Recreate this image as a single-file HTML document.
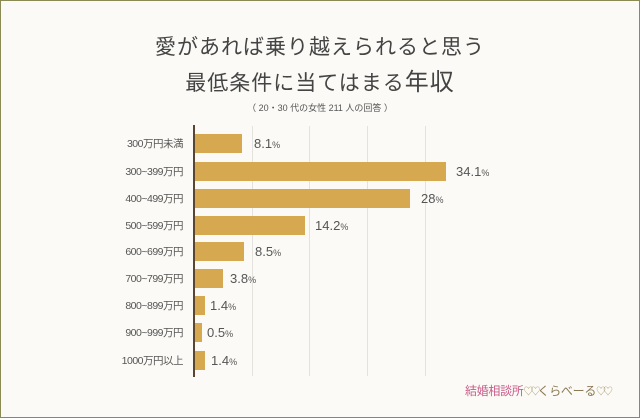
<!DOCTYPE html>
<html><head><meta charset="utf-8"><style>
body{margin:0;width:640px;height:418px;overflow:hidden;background:#fbfaf6;font-family:"Liberation Sans","Noto Sans CJK JP",sans-serif;}
.f{position:absolute;left:0;top:0;width:638px;height:416px;border:1px solid #8a8a55;}
.t{position:absolute;left:0;width:640px;text-align:center;color:#444;}
.g{position:absolute;top:126px;height:250px;width:1px;background:#e4e2dc;}
.bar{position:absolute;left:195px;height:19px;background:#d6a850;}
.lab{position:absolute;right:457px;font-size:10.5px;color:#555;letter-spacing:-0.5px;}
.v{position:absolute;font-size:13px;color:#555;}
.v small{font-size:9px;}
</style></head><body>
<div class="f"></div>
<div class="t" style="top:31px;font-size:21px;letter-spacing:1px;">愛があれば乗り越えられると思う</div>
<div class="t" style="top:62px;font-size:21px;letter-spacing:1px;">最低条件に当てはまる<span style="font-size:24px">年収</span></div>
<div class="t" style="top:101px;font-size:9px;color:#555;">（ 20・30 代の女性 211 人の回答 ）</div>
<div class="g" style="left:252px"></div><div class="g" style="left:309px"></div><div class="g" style="left:367px"></div><div class="g" style="left:425px"></div>
<div style="position:absolute;left:193px;top:125px;width:2px;height:252px;background:#5a4630"></div>

<div class="bar" style="top:134px;width:47px"></div><div class="lab" style="top:136px">300万円未満</div><div class="v" style="left:254px;top:136px">8.1<small>%</small></div>
<div class="bar" style="top:162px;width:251px"></div><div class="lab" style="top:164px">300~399万円</div><div class="v" style="left:456px;top:164px">34.1<small>%</small></div>
<div class="bar" style="top:189px;width:215px"></div><div class="lab" style="top:191px">400~499万円</div><div class="v" style="left:421px;top:191px">28<small>%</small></div>
<div class="bar" style="top:216px;width:110px"></div><div class="lab" style="top:218px">500~599万円</div><div class="v" style="left:315px;top:218px">14.2<small>%</small></div>
<div class="bar" style="top:242px;width:49px"></div><div class="lab" style="top:244px">600~699万円</div><div class="v" style="left:255px;top:244px">8.5<small>%</small></div>
<div class="bar" style="top:269px;width:28px"></div><div class="lab" style="top:271px">700~799万円</div><div class="v" style="left:230px;top:271px">3.8<small>%</small></div>
<div class="bar" style="top:296px;width:10px"></div><div class="lab" style="top:298px">800~899万円</div><div class="v" style="left:210px;top:298px">1.4<small>%</small></div>
<div class="bar" style="top:323px;width:7px"></div><div class="lab" style="top:325px">900~999万円</div><div class="v" style="left:207px;top:325px">0.5<small>%</small></div>
<div class="bar" style="top:351px;width:10px"></div><div class="lab" style="top:353px">1000万円以上</div><div class="v" style="left:211px;top:353px">1.4<small>%</small></div>

<div style="position:absolute;left:465px;top:382px;font-size:12px;color:#c95c8a;white-space:nowrap;letter-spacing:-0.3px;">結婚相談所<span style="color:#a89a70;font-size:10px;letter-spacing:-3px">♡♡</span><span style="color:#8a7a55">くらべーる</span><span style="color:#a89a70;font-size:10px;letter-spacing:-3px">♡♡</span></div>
</body></html>
